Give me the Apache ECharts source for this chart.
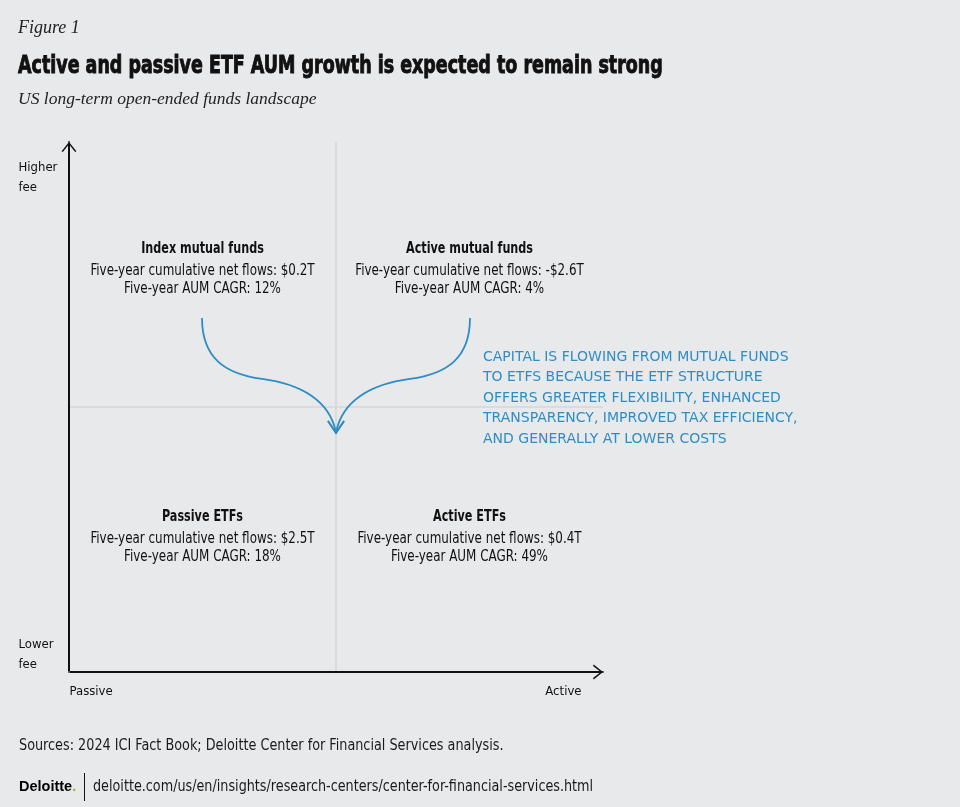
<!DOCTYPE html>
<html>
<head>
<meta charset="utf-8">
<script src="https://cdn.jsdelivr.net/npm/echarts@6/dist/echarts.min.js"></script>
<style>
  html, body { margin: 0; padding: 0; background: #e8e9eb; }
  #main { width: 960px; height: 807px; }
</style>
</head>
<body>
<div id="main"></div>
<script>
// quadrant data
var quadrantNames = ['Index mutual funds', 'Active mutual funds', 'Passive ETFs', 'Active ETFs'];
var netFlows = [0.2, -2.6, 2.5, 0.4];   // five-year cumulative net flows, $T
var aumCagr = [12, 4, 18, 49];          // five-year AUM CAGR, %
var quadX = [0.5, 1.5, 0.5, 1.5];       // passive -> active
var quadY = [1.5, 1.5, 0.5, 0.5];       // lower fee -> higher fee

// axis end labels
var feeLabels = ['Higher\nfee', 'Lower\nfee'];
var styleLabels = ['Passive', 'Active'];

// flow arrows (two cubic segments each, in axis units)
var leftArrow = [0.498, 1.336, 0.498, 1.185, 0.584, 1.125, 0.723, 1.106, 0.865, 1.087, 0.978, 1.026, 1.0, 0.902];
var rightArrow = leftArrow.map(function (v, i) { return i % 2 === 0 ? 2 - v : v; });

var noteLines = [
  'CAPITAL IS FLOWING FROM MUTUAL FUNDS',
  'TO ETFS BECAUSE THE ETF STRUCTURE',
  'OFFERS GREATER FLEXIBILITY, ENHANCED',
  'TRANSPARENCY, IMPROVED TAX EFFICIENCY,',
  'AND GENERALLY AT LOWER COSTS'
];

var narrow = "'DejaVu Sans Condensed', sans-serif";
var serif = "'Liberation Serif', 'DejaVu Serif', serif";
var blue = '#2e8dc5';
var ink = '#111111';
var chevron = 'path://M0,10 L8,0 L16,10 L14.6,10.8 L8,2.4 L1.4,10.8 Z';

function fmtFlow(v) {
  return (v < 0 ? '-$' : '$') + Math.abs(v).toFixed(1) + 'T';
}

var quadData = quadrantNames.map(function (n, i) {
  return [quadX[i], quadY[i], netFlows[i], aumCagr[i]];
});

var edgeData = [
  { value: [0, 2, feeLabels[0]], label: { position: [-50, 16], align: 'left', verticalAlign: 'top' } },
  { value: [0, 0, feeLabels[1]], label: { position: [-50, -37], align: 'left', verticalAlign: 'top' } },
  { value: [0, 0, styleLabels[0]], label: { position: [1, 10], align: 'left', verticalAlign: 'top' } },
  { value: [2, 0, styleLabels[1]], label: { position: [-21, 10], align: 'right', verticalAlign: 'top' } }
];

var chart = echarts.init(document.getElementById('main'));

function line(txt, y, size, weight, sx) {
  return { type: 'text', y: y, scaleX: sx,
    style: { text: txt, fontFamily: narrow, fontSize: size, fontWeight: weight, fill: ink,
      align: 'center', verticalAlign: 'middle' } };
}

chart.setOption({
  backgroundColor: '#e8e9eb',
  animation: false,
  grid: { left: 69, right: 357, top: 142, bottom: 135 },
  xAxis: {
    type: 'value', min: 0, max: 2, interval: 1,
    axisLine: { show: true, lineStyle: { color: ink, width: 2 },
      symbol: ['none', chevron], symbolSize: [16, 10], symbolOffset: [0, -5] },
    axisTick: { show: false }, axisLabel: { show: false },
    splitLine: { show: true, lineStyle: { color: ['rgba(0,0,0,0)', '#d5d7db', 'rgba(0,0,0,0)'], width: 1.5 } }
  },
  yAxis: {
    type: 'value', min: 0, max: 2, interval: 1,
    axisLine: { show: true, lineStyle: { color: ink, width: 2 },
      symbol: ['none', chevron], symbolSize: [16, 10], symbolOffset: [0, -5] },
    axisTick: { show: false }, axisLabel: { show: false },
    splitLine: { show: true, lineStyle: { color: ['rgba(0,0,0,0)', '#d5d7db', 'rgba(0,0,0,0)'], width: 1.5 } }
  },
  series: [
    {
      name: 'quadrants', type: 'custom', silent: true,
      data: quadData,
      encode: { x: 0, y: 1 },
      renderItem: function (params, api) {
        var p = api.coord([api.value(0), api.value(1)]);
        var i = params.dataIndex;
        var top = api.value(1) > 1;
        return {
          type: 'group', x: p[0], y: p[1] + (top ? 0.5 : 3.5),
          children: [
            line(quadrantNames[i], -26, 15, 'bold', 0.83),
            line('Five-year cumulative net flows: ' + fmtFlow(api.value(2)), -4, 15, 'normal', 0.885),
            line('Five-year AUM CAGR: ' + api.value(3) + '%', 14, 15, 'normal', 0.885)
          ]
        };
      }
    },
    {
      name: 'edges', type: 'scatter', silent: true,
      symbolSize: 1, itemStyle: { color: '#e8e9eb', opacity: 1 },
      data: edgeData,
      label: {
        show: true, fontFamily: narrow, fontSize: 13, lineHeight: 20, color: ink, opacity: 1,
        formatter: function (p) { return p.value[2]; }
      }
    },
    {
      name: 'flows', type: 'custom', silent: true,
      data: [leftArrow, rightArrow],
      encode: { x: 0, y: 1 },
      renderItem: function (params, api) {
        var pts = [];
        for (var i = 0; i < 7; i++) pts.push(api.coord([api.value(2 * i), api.value(2 * i + 1)]));
        var s = function (p) { return p[0].toFixed(1) + ',' + p[1].toFixed(1); };
        var d = 'M' + s(pts[0]) + ' C' + s(pts[1]) + ' ' + s(pts[2]) + ' ' + s(pts[3]) +
          ' C' + s(pts[4]) + ' ' + s(pts[5]) + ' ' + s(pts[6]);
        var tip = pts[6];
        return {
          type: 'group',
          children: [
            { type: 'path', shape: { pathData: d }, style: { stroke: blue, fill: null, lineWidth: 1.8 } },
            { type: 'polyline', shape: { points: [[tip[0] - 8, tip[1] - 12], [tip[0], tip[1]], [tip[0] + 8, tip[1] - 12]] },
              style: { stroke: blue, fill: null, lineWidth: 1.8 } }
          ]
        };
      }
    }
  ],
  graphic: [
    { type: 'text', x: 18, y: 28,
      style: { text: 'Figure 1', fontFamily: serif, fontStyle: 'italic', fontSize: 18, fill: '#222', verticalAlign: 'middle' } },
    { type: 'text', x: 18, y: 67, scaleX: 0.81,
      style: { text: 'Active and passive ETF AUM growth is expected to remain strong', fontFamily: narrow,
        fontWeight: 'bold', fontSize: 24, fill: ink, stroke: ink, lineWidth: 0.9, verticalAlign: 'middle' } },
    { type: 'text', x: 18, y: 99,
      style: { text: 'US long-term open-ended funds landscape', fontFamily: serif, fontStyle: 'italic',
        fontSize: 17.5, fill: '#222', verticalAlign: 'middle' } },
    { type: 'text', x: 483, y: 347,
      style: { text: noteLines.join('\n'), fontFamily: "'DejaVu Sans', sans-serif", fontSize: 14,
        lineHeight: 20.5, fill: blue } },
    { type: 'text', x: 19, y: 746, scaleX: 0.95,
      style: { text: 'Sources: 2024 ICI Fact Book; Deloitte Center for Financial Services analysis.',
        fontFamily: narrow, fontSize: 15, fill: '#1a1a1a', verticalAlign: 'middle' } },
    { type: 'text', x: 19, y: 787,
      style: { text: '{d|Deloitte}{g|.}', verticalAlign: 'middle', rich: {
        d: { fontFamily: "'Liberation Sans', sans-serif", fontWeight: 'bold', fontSize: 14.5, fill: '#000' },
        g: { fontFamily: "'Liberation Sans', sans-serif", fontWeight: 'bold', fontSize: 14.5, fill: '#86bc25' } } } },
    { type: 'line', shape: { x1: 84.5, y1: 773, x2: 84.5, y2: 801 }, style: { stroke: ink, lineWidth: 1 } },
    { type: 'text', x: 93, y: 787, scaleX: 0.947,
      style: { text: 'deloitte.com/us/en/insights/research-centers/center-for-financial-services.html',
        fontFamily: narrow, fontSize: 15, fill: '#1a1a1a', verticalAlign: 'middle' } }
  ]
});
</script>
</body>
</html>
